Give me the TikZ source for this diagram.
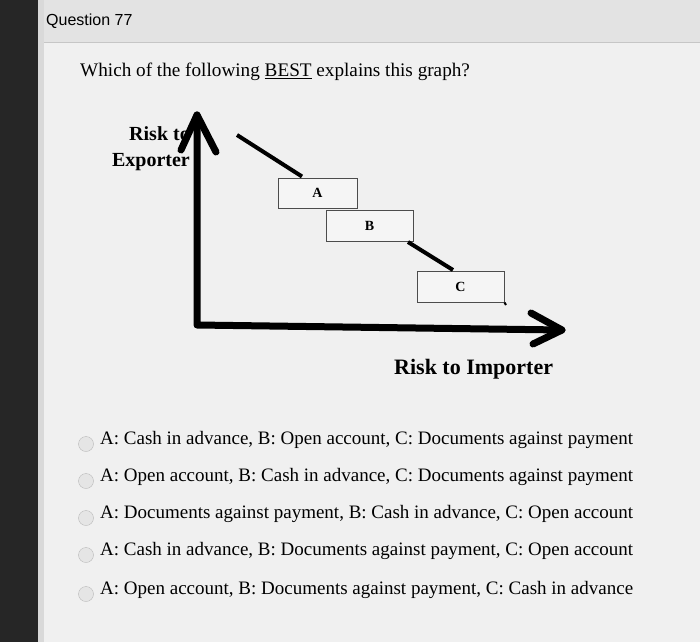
\documentclass[tikz,border=0pt]{standalone}
\usepackage{fontspec}
\setmainfont{Liberation Serif}
\newfontfamily\hdr{Liberation Sans}
\begin{document}
\begin{tikzpicture}[x=1pt,y=-1pt,
  txt/.style={anchor=west,inner sep=0pt,font=\fontsize{19}{22}\selectfont},
  box/.style={draw=black!70,line width=1pt,fill=white!92!gray,inner sep=0pt,font=\bfseries\fontsize{14}{16}\selectfont},
  axis/.style={line width=7pt,line cap=round,line join=round},
  radio/.style={circle,draw=gray!55,fill=gray!20,minimum size=15pt,inner sep=0pt}]
\useasboundingbox (0,0) rectangle (700,642);
\fill[gray!12] (0,0) rectangle (700,642);
\fill[black!85] (0,0) rectangle (38,642);
\fill[gray!30] (38,0) rectangle (44,642);
\fill[gray!22] (44,0) rectangle (700,42);
\draw[gray!45] (44,42) -- (700,42);
\node[anchor=west,inner sep=0pt,font=\hdr\fontsize{16}{18}\selectfont] (q) at (46,21) {Question 77};
\node[txt,font=\fontsize{19.2}{22}\selectfont] (stem) at (80,72) {Which of the following \underline{BEST} explains this graph?};
% axes
\coordinate (o) at (197,325);
\coordinate (yt) at (197,115);
\coordinate (xt) at (562,330);
\draw[axis] (yt) -- (o) -- (xt);
\draw[axis] (181,150) -- (yt) -- (216,152);
\draw[axis] (531,313) -- (xt) -- (533,344);
\node[inner sep=0pt,align=right,anchor=east,font=\bfseries\fontsize{20}{26}\selectfont] (ylab) at (190,149) {Risk to\\Exporter};
\node[anchor=west,inner sep=0pt,font=\bfseries\fontsize{22}{24}\selectfont] (xlab) at (394,369) {Risk to Importer};
% boxes
\node[box,minimum width=79pt,minimum height=30pt] (A) at (317.5,193) {A};
\node[box,minimum width=87pt,minimum height=31pt] (B) at (369.5,225.5) {B};
\node[box,minimum width=87pt,minimum height=31pt] (C) at (460.5,286.5) {C};
\draw[line width=4pt] (237,135) -- (302,176.5);
\draw[line width=4pt] (408,242) -- (453,270);
\draw[line width=2pt] (C.south east) -- (506,305);
% options
\foreach \y/\t [count=\i] in {440/{A: Cash in advance, B: Open account, C: Documents against payment},
  477/{A: Open account, B: Cash in advance, C: Documents against payment},
  514/{A: Documents against payment, B: Cash in advance, C: Open account},
  551/{A: Cash in advance, B: Documents against payment, C: Open account},
  590/{A: Open account, B: Documents against payment, C: Cash in advance}}{
  \node[radio] (r\i) at (86,\y+4) {};
  \node[txt] (o\i) at (100,\y) {\t};
}
\end{tikzpicture}
\end{document}
